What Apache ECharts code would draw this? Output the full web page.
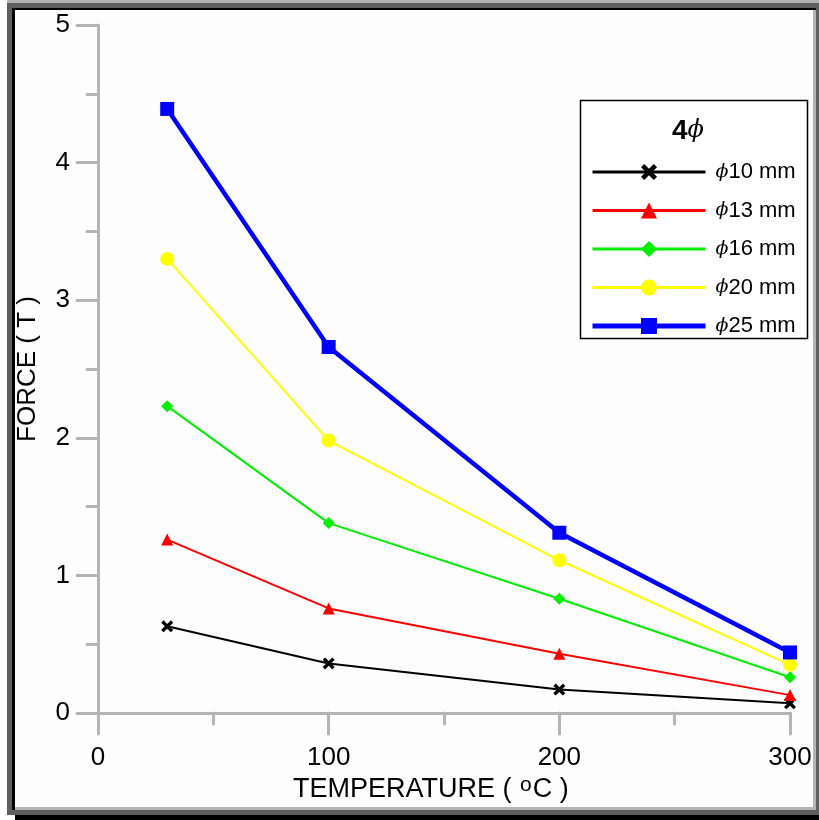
<!DOCTYPE html>
<html>
<head>
<meta charset="utf-8">
<script src="https://cdn.jsdelivr.net/npm/echarts@6/dist/echarts.min.js"></script>
<style>
html,body{margin:0;padding:0;background:#fff;}
#chart{width:819px;height:820px;}
</style>
</head>
<body>
<div id="chart"></div>
<script>
// ---- data ----
var temperatures = [30, 100, 200, 300];
var seriesNames = ['ϕ10 mm', 'ϕ13 mm', 'ϕ16 mm', 'ϕ20 mm', 'ϕ25 mm'];
var force10 = [0.63, 0.36, 0.17, 0.07];
var force13 = [1.26, 0.76, 0.43, 0.13];
var force16 = [2.23, 1.38, 0.83, 0.26];
var force20 = [3.30, 1.98, 1.11, 0.35];
var force25 = [4.39, 2.66, 1.31, 0.44];
var xTicks = [0, 100, 200, 300];
var yTicks = [0, 1, 2, 3, 4, 5];
var legendTitle = '4';
var xAxisNameParts = ['TEMPERATURE ( ', 'o', 'C )'];
var yAxisName = 'FORCE ( T )';

function pairs(vals) { return temperatures.map(function (t, i) { return [t, vals[i]]; }); }

var crossPath = 'path://M0,2 L2,0 L5,3 L8,0 L10,2 L7,5 L10,8 L8,10 L5,7 L2,10 L0,8 L3,5 Z';
var styles = [
  { color: '#000000', width: 2, symbol: crossPath, size: 12 },
  { color: '#ff0000', width: 2, symbol: 'triangle', size: 12 },
  { color: '#00ee00', width: 2, symbol: 'diamond', size: 12 },
  { color: '#ffff00', width: 2, symbol: 'circle', size: 14 },
  { color: '#0000ff', width: 4.5, symbol: 'rect', size: 14 }
];
var allData = [force10, force13, force16, force20, force25];

var series = allData.map(function (d, i) {
  var s = styles[i];
  return {
    name: seriesNames[i],
    type: 'line',
    data: pairs(d),
    symbol: s.symbol,
    symbolSize: s.size,
    showAllSymbol: true,
    lineStyle: { color: s.color, width: s.width },
    itemStyle: { color: s.color },
    emphasis: { disabled: true },
    animation: false,
    z: 2 + i
  };
});

var legendData = seriesNames.map(function (n, i) {
  return {
    name: n,
    lineStyle: { color: styles[i].color, width: i === 4 ? 5 : 3 },
    itemStyle: { color: styles[i].color }
  };
});

var axisGray = '#b4b4b4';
var font = 'Liberation Sans, Arial, sans-serif';

var chart = echarts.init(document.getElementById('chart'), null, { renderer: 'canvas' });
chart.setOption({
  backgroundColor: '#ffffff',
  animation: false,
  grid: { left: 98, right: 29, top: 25, bottom: 107, containLabel: false },
  xAxis: {
    type: 'value', min: 0, max: 300, interval: 100,
    axisLine: { show: true, lineStyle: { color: axisGray, width: 3, cap: 'round' } },
    axisTick: { show: true, length: 21, lineStyle: { color: axisGray, width: 3, cap: 'round' } },
    minorTick: { show: true, splitNumber: 2, length: 11, lineStyle: { color: axisGray, width: 3, cap: 'round' } },
    splitLine: { show: false },
    axisLabel: { color: '#000', fontFamily: font, fontSize: 26, margin: 32 }
  },
  yAxis: {
    type: 'value', min: 0, max: 5, interval: 1,
    name: yAxisName, nameLocation: 'middle', nameGap: 57,
    nameTextStyle: { color: '#000', fontFamily: font, fontSize: 26 },
    axisLine: { show: true, lineStyle: { color: axisGray, width: 3, cap: 'round' } },
    axisTick: { show: true, length: 21, lineStyle: { color: axisGray, width: 3, cap: 'round' } },
    minorTick: { show: true, splitNumber: 2, length: 11, lineStyle: { color: axisGray, width: 3, cap: 'round' } },
    splitLine: { show: false },
    axisLabel: { color: '#000', fontFamily: font, fontSize: 26, margin: 28 }
  },
  legend: {
    left: 590, top: 161, orient: 'vertical',
    itemWidth: 113, itemHeight: 20, itemGap: 16.5, padding: 0,
    formatter: function (name) { return '{p|' + name.charAt(0) + '}{t|' + name.slice(1) + '}'; },
    textStyle: {
      color: '#000', fontFamily: font, fontSize: 22, padding: [0, 0, 0, 5],
      rich: {
        p: { fontFamily: 'DejaVu Serif, serif', fontSize: 19, fontStyle: 'italic', color: '#000' },
        t: { fontFamily: font, fontSize: 22, color: '#000' }
      }
    },
    data: legendData,
    selectedMode: false
  },
  graphic: [
    { type: 'rect', z: -100, shape: { x: 7, y: 0, width: 812, height: 815 }, style: { fill: '#5f5f5f' }, silent: true },
    { type: 'rect', z: -99, shape: { x: 7, y: 0, width: 812, height: 3 }, style: { fill: '#b4b4b4' }, silent: true },
    { type: 'rect', z: -98, shape: { x: 12, y: 8, width: 804, height: 802 }, style: { fill: '#000' }, silent: true },
    { type: 'rect', z: -97, shape: { x: 15, y: 10, width: 801, height: 800 }, style: { fill: '#b4b4b4' }, silent: true },
    { type: 'rect', z: -96, shape: { x: 15, y: 10, width: 798, height: 797 }, style: { fill: '#fdfdfd' }, silent: true },
    { type: 'rect', z: -95, shape: { x: 15, y: 815, width: 804, height: 5 }, style: { fill: '#000' }, silent: true },
    { type: 'rect', z: 1, shape: { x: 580.5, y: 100.5, width: 227, height: 238 }, style: { fill: '#fff', stroke: '#000', lineWidth: 1.5 }, silent: true },
    {
      type: 'text', z: 10, left: 672, top: 117, silent: true,
      style: {
        text: '{b|' + legendTitle + '}{p|ϕ}',
        rich: {
          b: { fontFamily: font, fontSize: 28, fontWeight: 'bold', fill: '#000' },
          p: { fontFamily: 'DejaVu Serif, serif', fontSize: 24, fontStyle: 'italic', fill: '#000' }
        }
      }
    },
    {
      type: 'text', z: 10, left: 293, top: 775, silent: true,
      style: {
        text: '{a|' + xAxisNameParts[0] + '}{o|' + xAxisNameParts[1] + '}{a|' + xAxisNameParts[2] + '}',
        rich: {
          a: { fontFamily: font, fontSize: 27, fill: '#000', lineHeight: 30 },
          o: { fontFamily: font, fontSize: 21, fill: '#000', verticalAlign: 'top', lineHeight: 20, padding: [0, 1, 0, 1] }
        }
      }
    }
  ],
  series: series
});
</script>
</body>
</html>
